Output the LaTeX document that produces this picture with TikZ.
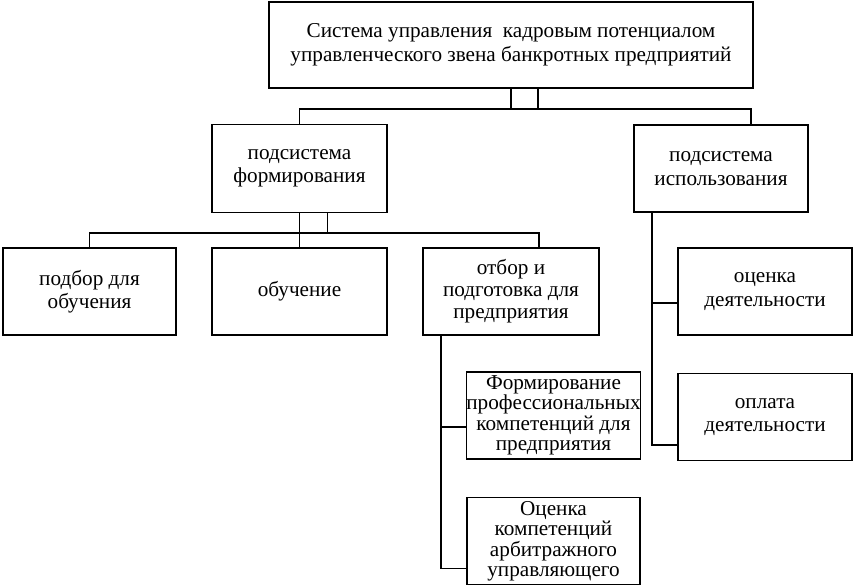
\documentclass[tikz,border=0pt]{standalone}
\usepackage{fontspec}
\setmainfont{Liberation Serif}
\usetikzlibrary{positioning}

\begin{document}
\begin{tikzpicture}[x=1pt, y=1pt, line width=1.6pt,
	blok/.style={draw=black, align=center, inner sep=0pt, minimum width=174pt, minimum height=87pt, font=\fontsize{21.2}{23.5}\selectfont},
	tesno/.style={font=\fontsize{21.2}{20.5}\selectfont}]
	\useasboundingbox (0, 0) rectangle (857, 585);
	\node[blok, minimum width=484pt, minimum height=86pt, font=\fontsize{21.2}{24}\selectfont] (sys) at (511, 540) {Система управления~ кадровым потенциалом\\управленческого звена банкротных предприятий};
	\node[blok, minimum width=175pt, minimum height=88pt] (form) at (299.5, 416.5) {подсистема\\формирования};
	\node[blok] (isp) at (721, 416.5) {подсистема\\использования};
	\node[blok, minimum width=173pt] (podbor) at (89.5, 293.5) {подбор для\\обучения};
	\node[blok, minimum width=175pt] (obuch) at (299.5, 293.5) {обучение};
	\node[blok, minimum width=176pt, font=\fontsize{21.2}{22}\selectfont] (otbor) at (511, 293.5) {отбор и\\подготовка для\\предприятия};
	\node[blok, tesno, minimum width=173pt] (formcomp) at (553.5, 169.5) {Формирование\\профессиональных\\компетенций для\\предприятия};
	\node[blok, tesno, minimum width=173pt, below=37pt of formcomp] (ocenkacomp) {Оценка\\компетенций\\арбитражного\\управляющего};
	\node[blok] (ocenkadeyat) at (765, 293.5) {оценка\\деятельности};
	\node[blok, below=37pt of ocenkadeyat] (oplata) {оплата\\деятельности};
	\coordinate (bus1) at (0, 476);
	\coordinate (bus2) at (0, 352);
	\draw (sys.south) -- ++(0, -21);
	\draw ([xshift=27pt]sys.south) -- ++(0, -21);
	\draw (form.north) -- (form.north |- bus1) -| ([xshift=30pt]isp.north);
	\draw (form.south) -- (obuch.north);
	\draw ([xshift=28pt]form.south) -- ++(0, -20);
	\draw (podbor.north) -- (podbor.north |- bus2) -| ([xshift=28pt]otbor.north);
	\draw ([xshift=19pt]otbor.south west) |- ([yshift=-11.5pt]formcomp.west);
	\draw ([xshift=19pt]otbor.south west) |- ([yshift=-27.5pt]ocenkacomp.west);
	\draw ([xshift=19pt]isp.south west) |- ([yshift=-11.5pt]ocenkadeyat.west);
	\draw ([xshift=19pt]isp.south west) |- ([yshift=-28pt]oplata.west);
\end{tikzpicture}
\end{document}
